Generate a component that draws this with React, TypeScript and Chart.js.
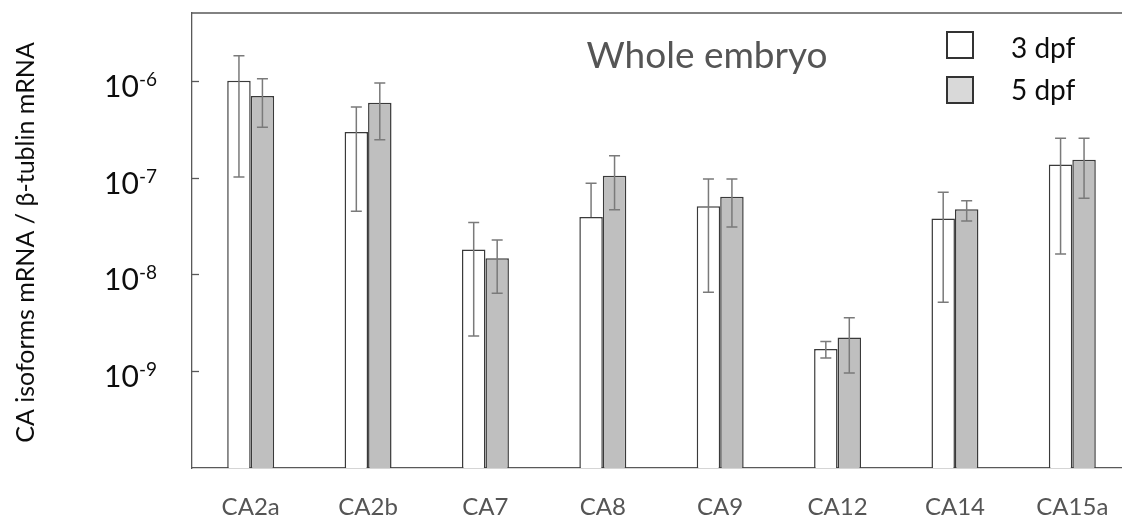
import React, { useEffect, useRef } from "react";
import { Chart, registerables } from "chart.js";

Chart.register(...registerables);

// ---- data ----
const categories = ["CA2a", "CA2b", "CA7", "CA8", "CA9", "CA12", "CA14", "CA15a"];
const seriesLabels = ["3 dpf", "5 dpf"];

const dpf3 = [1.0e-6, 2.95e-7, 1.81e-8, 3.91e-8, 5.04e-8, 1.69e-9, 3.78e-8, 1.36e-7];
const dpf3Upper = [1.81e-6, 5.35e-7, 3.44e-8, 8.71e-8, 9.66e-8, 2.03e-9, 7.03e-8, 2.54e-7];
const dpf3Lower: (number | null)[] = [1.01e-7, 4.48e-8, 2.31e-9, null, 6.52e-9, 1.37e-9, 5.14e-9, 1.62e-8];

const dpf5 = [6.95e-7, 5.93e-7, 1.47e-8, 1.045e-7, 6.34e-8, 2.23e-9, 4.69e-8, 1.53e-7];
const dpf5Upper = [1.05e-6, 9.46e-7, 2.26e-8, 1.68e-7, 9.66e-8, 3.56e-9, 5.75e-8, 2.54e-7];
const dpf5Lower: (number | null)[] = [3.3e-7, 2.46e-7, 6.37e-9, 4.65e-8, 3.08e-8, 9.55e-10, 3.56e-8, 6.1e-8];

const yTickValues = [1e-6, 1e-7, 1e-8, 1e-9];
const yTickExponents = ["-6", "-7", "-8", "-9"];
const yMin = 1e-10;
const yMax = 5e-6;

const chartTitle = "Whole embryo";
const yTitle = "CA isoforms mRNA / β-tublin mRNA";

// ---- styles ----
const FONT = "Lato, 'Open Sans', sans-serif";
const AXIS_COLOR = "#595959";
const BAR_BORDER = "#3a3a3a";
const ERR_COLOR = "#7a7a7a";
const GRAY_TEXT = "#555555";

const overlay = {
  id: "overlay",
  afterDatasetsDraw(chart: any) {
    const ctx = chart.ctx;
    const y = chart.scales.y;
    const errSets = [
      [dpf3Upper, dpf3Lower],
      [dpf5Upper, dpf5Lower],
    ];
    ctx.save();
    ctx.strokeStyle = ERR_COLOR;
    ctx.lineWidth = 1.5;
    chart.data.datasets.forEach((ds: any, di: number) => {
      const meta = chart.getDatasetMeta(di);
      const [up, lo] = errSets[di];
      meta.data.forEach((bar: any, i: number) => {
        const cx = bar.x;
        const yv = y.getPixelForValue(ds.data[i]);
        const yu = up[i] != null ? y.getPixelForValue(up[i]) : yv;
        const yl = lo[i] != null ? y.getPixelForValue(lo[i] as number) : yv;
        ctx.beginPath();
        ctx.moveTo(cx, yu);
        ctx.lineTo(cx, yl);
        if (up[i] != null) {
          ctx.moveTo(cx - 5.5, yu);
          ctx.lineTo(cx + 5.5, yu);
        }
        if (lo[i] != null) {
          ctx.moveTo(cx - 5.5, yl);
          ctx.lineTo(cx + 5.5, yl);
        }
        ctx.stroke();
      });
    });
    ctx.restore();
  },
  afterDraw(chart: any) {
    const ctx = chart.ctx;
    const area = chart.chartArea;
    const y = chart.scales.y;
    const x = chart.scales.x;
    ctx.save();

    // top frame line
    ctx.strokeStyle = AXIS_COLOR;
    ctx.lineWidth = 1.3;
    ctx.beginPath();
    ctx.moveTo(area.left, area.top);
    ctx.lineTo(area.right, area.top);
    ctx.stroke();

    // inward tick marks + labels
    yTickValues.forEach((v, i) => {
      const py = Math.round(y.getPixelForValue(v)) + 0.5;
      ctx.strokeStyle = AXIS_COLOR;
      ctx.lineWidth = 1.3;
      ctx.beginPath();
      ctx.moveTo(area.left, py);
      ctx.lineTo(area.left + 7, py);
      ctx.stroke();

      ctx.fillStyle = "#0d0d0d";
      ctx.textBaseline = "alphabetic";
      ctx.textAlign = "left";
      ctx.font = `30px ${FONT}`;
      const tenW = ctx.measureText("10").width;
      ctx.font = `19px ${FONT}`;
      const supW = ctx.measureText(yTickExponents[i]).width;
      const right = 157;
      ctx.font = `30px ${FONT}`;
      ctx.fillText("10", right - supW - tenW, py + 15);
      ctx.font = `19px ${FONT}`;
      ctx.fillText(yTickExponents[i], right - supW, py + 4);
    });

    // y title
    ctx.save();
    ctx.translate(26, (area.top + area.bottom) / 2 + 2);
    ctx.rotate(-Math.PI / 2);
    ctx.fillStyle = "#0d0d0d";
    ctx.font = `25px ${FONT}`;
    ctx.textAlign = "center";
    ctx.textBaseline = "middle";
    ctx.fillText(yTitle, 0, 0);
    ctx.restore();

    // x labels
    ctx.fillStyle = GRAY_TEXT;
    ctx.font = `24px ${FONT}`;
    ctx.textAlign = "center";
    ctx.textBaseline = "alphabetic";
    categories.forEach((c, i) => {
      ctx.fillText(c, x.getPixelForValue(i), 515);
    });

    // chart title
    ctx.font = `37px ${FONT}`;
    ctx.fillStyle = GRAY_TEXT;
    ctx.textAlign = "center";
    ctx.fillText(chartTitle, 707, 68);

    // legend
    const fills = ["#ffffff", "#d9d9d9"];
    const boxTops = [32, 77];
    const baselines = [58, 100];
    seriesLabels.forEach((lab, i) => {
      ctx.fillStyle = fills[i];
      ctx.fillRect(947, boxTops[i], 26, 26);
      ctx.strokeStyle = "#333";
      ctx.lineWidth = 2;
      ctx.strokeRect(947, boxTops[i], 26, 26);
      ctx.fillStyle = "#0d0d0d";
      ctx.font = `28px ${FONT}`;
      ctx.textAlign = "left";
      ctx.fillText(lab, 1011, baselines[i]);
    });

    ctx.restore();
  },
};

export default function App() {
  const ref = useRef<HTMLCanvasElement | null>(null);

  useEffect(() => {
    let chart: Chart | null = null;
    let cancelled = false;
    const make = () => {
      if (cancelled || !ref.current) return;
      chart = new Chart(ref.current, {
        type: "bar",
        data: {
          labels: categories,
          datasets: [
            {
              label: seriesLabels[0],
              data: dpf3,
              backgroundColor: "#ffffff",
              borderColor: BAR_BORDER,
              borderWidth: 1.5,
              categoryPercentage: 0.4,
              barPercentage: 1.0,
            },
            {
              label: seriesLabels[1],
              data: dpf5,
              backgroundColor: "#bfbfbf",
              borderColor: BAR_BORDER,
              borderWidth: 1.5,
              categoryPercentage: 0.4,
              barPercentage: 1.0,
            },
          ],
        },
        options: {
          animation: false,
          responsive: false,
          devicePixelRatio: 1,
          layout: { padding: { top: 13, right: 9, left: 0, bottom: 0 } },
          plugins: {
            legend: { display: false },
            tooltip: { enabled: false },
            title: { display: false },
          },
          scales: {
            x: {
              type: "category",
              grid: { display: false, drawTicks: false },
              ticks: { display: false },
              border: { display: true, color: AXIS_COLOR, width: 1.3 },
              afterFit: (s: any) => {
                s.height = 52;
              },
            },
            y: {
              type: "logarithmic",
              min: yMin,
              max: yMax,
              grid: { display: false, drawTicks: false },
              ticks: { display: false },
              border: { display: true, color: AXIS_COLOR, width: 1.3 },
              afterFit: (s: any) => {
                s.width = 192;
              },
            },
          },
        },
        plugins: [overlay],
      } as any);
    };
    const fonts: any = (document as any).fonts;
    if (fonts && fonts.load) {
      Promise.all([
        fonts.load(`24px Lato`),
        fonts.load(`30px Lato`),
      ])
        .catch(() => null)
        .then(make);
    } else {
      make();
    }
    return () => {
      cancelled = true;
      if (chart) chart.destroy();
    };
  }, []);

  return (
    <div
      style={{
        position: "fixed",
        left: 0,
        top: 0,
        width: 1122,
        height: 520,
        overflow: "hidden",
        background: "#fff",
      }}
    >
      <canvas
        ref={ref}
        width={1140}
        height={520}
        style={{ display: "block", width: 1140, height: 520 }}
      />
    </div>
  );
}
